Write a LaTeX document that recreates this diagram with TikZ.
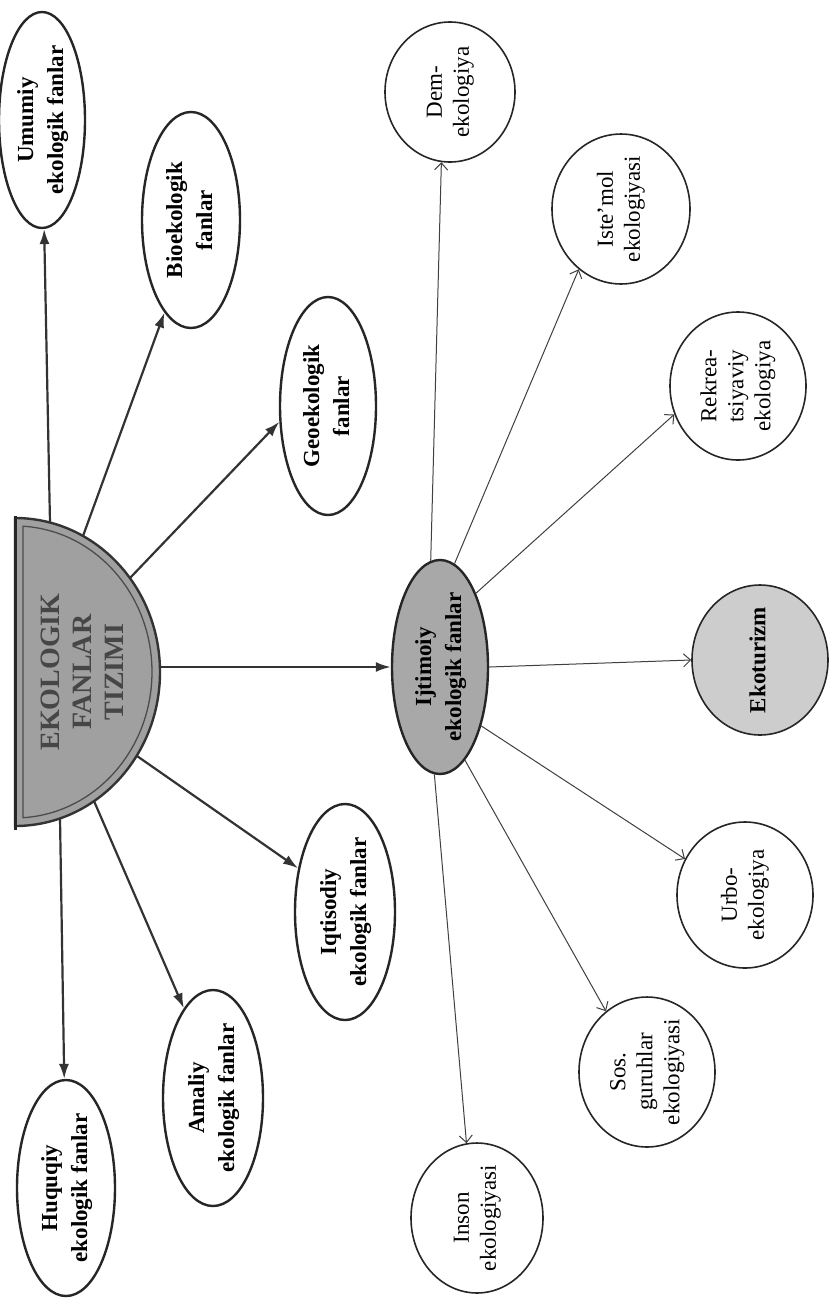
\documentclass[tikz,border=0pt]{standalone}
\usepackage{fontspec}
\setmainfont{Liberation Serif}
\usepackage{graphicx}
\usetikzlibrary{shapes.geometric,arrows.meta}
\newcommand{\rtxt}[1]{\rotatebox{90}{\begin{tabular}{@{}c@{}}#1\end{tabular}}}
\definecolor{hdgray}{RGB}{160,160,160}
\definecolor{ijgray}{RGB}{168,168,168}
\definecolor{ekgray}{RGB}{205,205,205}
\definecolor{hdtext}{RGB}{70,70,70}
\begin{document}
\begin{tikzpicture}[x=1pt,y=-1pt,
  outer/.style={ellipse,draw=black!85,line width=2.4pt,fill=white,inner sep=0pt,
    font=\fontsize{23}{30}\selectfont\bfseries},
  circ/.style={ellipse,draw=black!85,line width=1.6pt,fill=white,inner sep=0pt,
    font=\fontsize{23}{27}\selectfont},
  bigarrow/.style={draw=black!80,line width=2.2pt,-{Latex[length=15pt,width=10pt]}},
  thinarrow/.style={draw=black!75,line width=1pt,-{Straight Barb[length=7pt,width=13pt]}},
]
\useasboundingbox[fill=white] (0,0) rectangle (829,1299);

% half disk
\fill[hdgray] (15,518) arc[start angle=-90,end angle=90,x radius=145,y radius=154] -- cycle;
\draw[black!80,line width=2.4pt] (15,518) arc[start angle=-90,end angle=90,x radius=145,y radius=154] -- cycle;
\draw[black!70,line width=1.3pt] (23,526.2) arc[start angle=-86.65,end angle=86.65,x radius=137,y radius=146] -- cycle;
\draw[black!85,line width=3pt] (15,516) -- (15,830);
\node[text=hdtext,font=\fontsize{28}{32}\selectfont\bfseries,inner sep=0pt] (hd) at (85,672)
  {\rtxt{EKOLOGIK\\FANLAR\\TIZIMI}};

\coordinate (s1) at (50,523);
\coordinate (s2) at (83,536);
\coordinate (s3) at (130,578);
\coordinate (s4) at (160,667);
\coordinate (s5) at (137,756);
\coordinate (s6) at (94,801);
\coordinate (s7) at (60,818);

% outer ellipses
\node[outer,minimum width=86pt,minimum height=216pt] (umu) at (42,120) {\rtxt{Umumiy\\ekologik fanlar}};
\node[outer,minimum width=98pt,minimum height=216pt] (bio) at (191,220) {\rtxt{Bioekologik\\fanlar}};
\node[outer,minimum width=96pt,minimum height=218pt] (geo) at (328,406) {\rtxt{Geoekologik\\fanlar}};
\node[outer,fill=ijgray,minimum width=96pt,minimum height=214pt] (ijt) at (440,667) {\rtxt{Ijtimoiy\\ekologik fanlar}};
\node[outer,minimum width=100pt,minimum height=216pt] (iqt) at (345,912) {\rtxt{Iqtisodiy\\ekologik fanlar}};
\node[outer,minimum width=100pt,minimum height=216pt] (ama) at (213,1098) {\rtxt{Amaliy\\ekologik fanlar}};
\node[outer,minimum width=98pt,minimum height=216pt] (huq) at (66,1188) {\rtxt{Huquqiy\\ekologik fanlar}};

% circles
\node[circ,minimum width=130pt,minimum height=140pt] (dem) at (450,92) {\rtxt{Dem-\\ekologiya}};
\node[circ,minimum width=138pt,minimum height=148pt] (ist) at (621,209) {\rtxt{Iste’mol\\ekologiyasi}};
\node[circ,minimum width=136pt,minimum height=148pt] (rek) at (738,386) {\rtxt{Rekrea-\\tsiyaviy\\ekologiya}};
\node[circ,fill=ekgray,font=\fontsize{23}{27}\selectfont\bfseries,minimum width=136pt,minimum height=146pt] (eko) at (760,660) {\rtxt{Ekoturizm}};
\node[circ,minimum width=136pt,minimum height=146pt] (urb) at (745,895) {\rtxt{Urbo-\\ekologiya}};
\node[circ,minimum width=136pt,minimum height=148pt] (sos) at (647,1072) {\rtxt{Sos.\\guruhlar\\ekologiyasi}};
\node[circ,minimum width=132pt,minimum height=140pt] (ins) at (477,1218) {\rtxt{Inson\\ekologiyasi}};

% thick arrows from the half disk
\draw[bigarrow] (s1) -- (umu);
\draw[bigarrow] (s2) -- (bio.254);
\draw[bigarrow] (s3) -- (geo.198);
\draw[bigarrow] (s4) -- (ijt.west);
\draw[bigarrow] (s5) -- (iqt.137);
\draw[bigarrow] (s6) -- (ama.108);
\draw[bigarrow] (s7) -- (huq);

% thin arrows from Ijtimoiy
\draw[thinarrow] (ijt.95) -- (dem.263);
\draw[thinarrow] (ijt.82) -- (ist.235);
\draw[thinarrow] (ijt.64) -- (rek.204);
\draw[thinarrow] (ijt.east) -- (eko.west);
\draw[thinarrow] (ijt.305) -- (urb.149);
\draw[thinarrow] (ijt.285) -- (sos.124);
\draw[thinarrow] (ijt.267) -- (ins.98);
\end{tikzpicture}
\end{document}
